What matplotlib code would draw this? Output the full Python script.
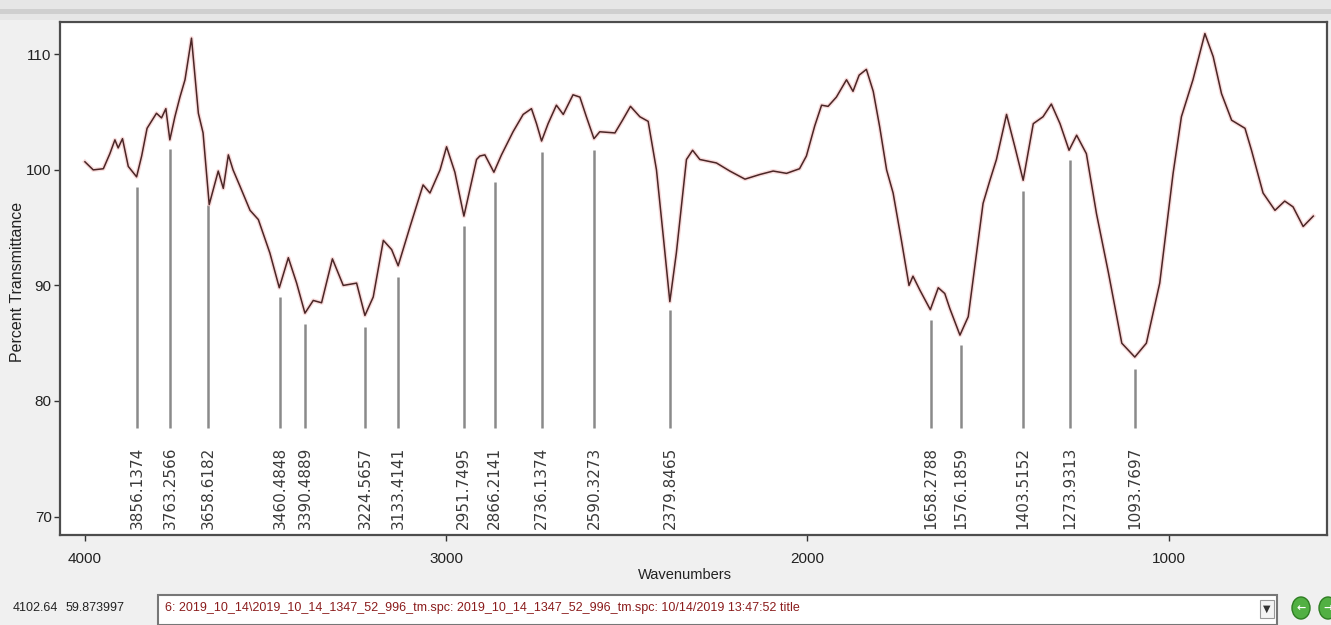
import matplotlib
matplotlib.use("Agg")
import matplotlib.pyplot as plt
from matplotlib.patches import Rectangle, Ellipse
import numpy as np

plt.rcParams['font.family'] = ['Liberation Sans', 'DejaVu Sans']

# spectrum trace (wavenumber, %T)
wavenumber = [
    4000, 3977, 3949, 3931, 3917, 3908, 3896, 3880, 3857, 3843, 3828, 3802,
    3788, 3776, 3765, 3751, 3737, 3723, 3705, 3686, 3673, 3656, 3631, 3617,
    3603, 3590, 3571, 3543, 3520, 3488, 3462, 3437, 3414, 3391, 3368, 3345,
    3315, 3285, 3248, 3225, 3202, 3174, 3151, 3133, 3100, 3064, 3045, 3017,
    2999, 2976, 2951, 2916, 2907, 2893, 2868, 2847, 2815, 2787, 2764, 2750,
    2736, 2718, 2695, 2676, 2649, 2630, 2612, 2591, 2575, 2533, 2512, 2490,
    2464, 2441, 2418, 2399, 2381, 2363, 2335, 2318, 2298, 2252, 2215, 2173,
    2132, 2095, 2058, 2022, 2003, 1980, 1961, 1943, 1920, 1892, 1874, 1857,
    1837, 1818, 1800, 1781, 1763, 1740, 1719, 1708, 1689, 1660, 1638, 1620,
    1606, 1578, 1555, 1532, 1514, 1495, 1477, 1449, 1426, 1403, 1375, 1348,
    1325, 1301, 1276, 1255, 1228, 1200, 1167, 1130, 1094, 1062, 1025, 988,
    965, 933, 900, 877, 854, 826, 789, 771, 739, 706, 679, 656, 628, 600,
]
transmittance = [
    100.7, 100.0, 100.1, 101.4, 102.6, 101.9, 102.7, 100.3, 99.4, 101.2, 103.6, 104.9,
    104.5, 105.3, 102.6, 104.6, 106.3, 107.8, 111.4, 104.9, 103.2, 97.0, 99.9, 98.4,
    101.3, 100.0, 98.6, 96.5, 95.7, 92.8, 89.8, 92.4, 90.2, 87.6, 88.7, 88.5,
    92.3, 90.0, 90.2, 87.4, 89.0, 93.9, 93.1, 91.7, 95.1, 98.7, 98.0, 100.0,
    102.0, 99.8, 96.0, 100.9, 101.2, 101.3, 99.8, 101.3, 103.3, 104.8, 105.3, 104.0,
    102.5, 104.0, 105.6, 104.8, 106.5, 106.3, 104.6, 102.7, 103.3, 103.2, 104.3, 105.5,
    104.6, 104.2, 100.0, 94.2, 88.6, 92.8, 100.9, 101.7, 100.9, 100.6, 99.9, 99.2,
    99.6, 99.9, 99.7, 100.1, 101.2, 103.8, 105.6, 105.5, 106.3, 107.8, 106.8, 108.2,
    108.7, 106.8, 103.7, 100.0, 98.0, 93.9, 90.0, 90.8, 89.6, 87.9, 89.8, 89.3,
    88.0, 85.7, 87.3, 92.8, 97.1, 99.1, 100.9, 104.8, 102.0, 99.1, 104.0, 104.6,
    105.7, 104.0, 101.7, 103.0, 101.4, 96.2, 91.1, 85.0, 83.8, 85.0, 90.2, 99.7,
    104.6, 107.8, 111.8, 109.8, 106.6, 104.3, 103.6, 101.7, 98.0, 96.5, 97.3, 96.8, 95.1, 96.0,
]

# picked peaks
peak_pos = [3856.1374, 3763.2566, 3658.6182, 3460.4848, 3390.4889, 3224.5657,
            3133.4141, 2951.7495, 2866.2141, 2736.1374, 2590.3273, 2379.8465,
            1658.2788, 1576.1859, 1403.5152, 1273.9313, 1093.7697]
peak_labels = ["3856.1374", "3763.2566", "3658.6182", "3460.4848", "3390.4889",
               "3224.5657", "3133.4141", "2951.7495", "2866.2141", "2736.1374",
               "2590.3273", "2379.8465", "1658.2788", "1576.1859", "1403.5152",
               "1273.9313", "1093.7697"]

y_ticks = [70, 80, 90, 100, 110]
x_ticks = [4000, 3000, 2000, 1000]

status_x = "4102.64"
status_y = "59.873997"
status_text = ("6: 2019_10_14\\2019_10_14_1347_52_996_tm.spc: "
               "2019_10_14_1347_52_996_tm.spc: 10/14/2019 13:47:52 title")

W, H = 1331, 625
fig = plt.figure(figsize=(W / 100, H / 100), dpi=100)
fig.patch.set_facecolor('#f0f0f0')

# toolbar strip along the top edge
fig.add_artist(Rectangle((0, 1 - 20 / H), 1, 20 / H, transform=fig.transFigure,
                         facecolor='#e6e6e6', edgecolor='none'))
fig.add_artist(Rectangle((0, 1 - 14 / H), 1, 5 / H, transform=fig.transFigure,
                         facecolor='#cfcfcf', edgecolor='none'))

ax = fig.add_axes([60 / W, 1 - 535 / H, (1327 - 60) / W, (535 - 22) / H])
ax.set_facecolor('white')
ax.set_xlim(4069, 562)
ax.set_ylim(68.4, 112.8)

wn = np.array(wavenumber)
tr = np.array(transmittance)
ax.plot(wn, tr, color='#f3b8b8', lw=3.0, alpha=0.5, zorder=2)
ax.plot(wn, tr, color='#4a2626', lw=1.1, zorder=3)

# peak markers: line from just under the curve down to the label
order = np.argsort(wn)
for pos, lab in zip(peak_pos, peak_labels):
    top = np.interp(pos, wn[order], tr[order]) - 1.0
    ax.vlines(pos, 77.7, top, color='#8a8a8a', lw=1.8, zorder=1)
    ax.text(pos, 68.9, lab, rotation=90, ha='center', va='bottom',
            fontsize=11, color='#3a3a3a', family=['DejaVu Sans'])

for s in ax.spines.values():
    s.set_color('#4d4d4d')
    s.set_linewidth(1.6)

ax.set_yticks(y_ticks)
ax.set_yticklabels([str(v) for v in y_ticks])
ax.set_xticks(x_ticks)
ax.set_xticklabels([str(v) for v in x_ticks])
ax.tick_params(axis='both', direction='out', length=4, width=1, color='#333333',
               labelsize=11, labelcolor='#222222', pad=2)
ax.tick_params(axis='x', pad=8)

fig.text(18 / W, 1 - 282 / H, "Percent Transmittance", rotation=90,
         ha='center', va='center', fontsize=11.5, color='#222222')
fig.text(685 / W, 1 - 575 / H, "Wavenumbers", ha='center', va='center',
         fontsize=10.5, color='#222222')

# status row
fig.text(13 / W, 1 - 608 / H, status_x, ha='left', va='center', fontsize=9, color='#222222')
fig.text(66 / W, 1 - 608 / H, status_y, ha='left', va='center', fontsize=9, color='#222222')
fig.add_artist(Rectangle((158 / W, 0), (1277 - 158) / W, (625 - 595) / H,
                         transform=fig.transFigure, facecolor='white',
                         edgecolor='#777777', lw=1.5))
fig.text(165 / W, 1 - 608 / H, status_text, ha='left', va='center', fontsize=9,
         color='#8b1c1c')
fig.add_artist(Rectangle((1260 / W, 1 - 618 / H), 14 / W, 18 / H,
                         transform=fig.transFigure, facecolor='#f4f4f4',
                         edgecolor='#999999', lw=0.8))
fig.text(1267 / W, 1 - 609 / H, "\u25bc", ha='center', va='center', fontsize=7,
         color='#333333', family=['DejaVu Sans'])
for cx in (1301, 1328):
    fig.add_artist(Ellipse((cx / W, 1 - 608 / H), 18 / W, 22 / H,
                           transform=fig.transFigure, facecolor='#52b043',
                           edgecolor='#2e7d22', lw=1))
    fig.text(cx / W, 1 - 608 / H, "\u2190" if cx < 1320 else "\u2192",
             ha='center', va='center', fontsize=8, color='white',
             family=['DejaVu Sans'], fontweight='bold')

fig.savefig("out.png", dpi=100, facecolor=fig.get_facecolor())
